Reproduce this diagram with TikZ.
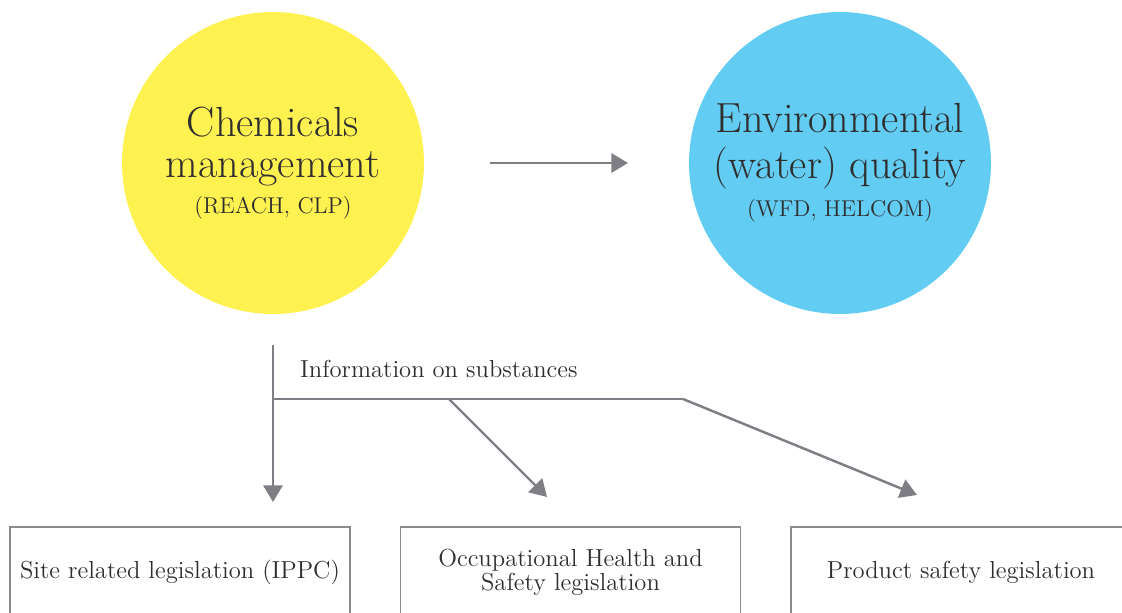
\documentclass[tikz,border=0pt]{standalone}
\usepackage{tikz}
\usetikzlibrary{shapes,arrows.meta}
\definecolor{chemyellow}{HTML}{FFF150}
\definecolor{waterblue}{HTML}{62CCF3}
\definecolor{linegray}{HTML}{7E7E84}
\definecolor{textgray}{HTML}{2E2E2E}
\newcommand{\bigfont}{\fontsize{24}{21}\selectfont}
\newcommand{\subfont}{\fontsize{13}{23}\selectfont}
\newcommand{\lawfont}{\fontsize{14}{13.8}\selectfont}
\newcommand{\bubble}[4] {\node at (#1) (#2) [circle, fill=#3, minimum size=6.04cm, align=center, text=textgray] {#4};}
\newcommand{\lawbox}[3] {\node at (#1) (#2) [rectangle, draw=linegray!90, line width=0.7pt, minimum width=6.8cm, minimum height=1.8cm, align=center, text=textgray, font=\lawfont] {#3};}
\newcommand{\flow}[2] {\draw [linegray, line width=1.4pt, -{Triangle[length=9.5pt,width=11pt]}] (#1) -- (#2);}
\newcommand{\feed}[2] {\draw [linegray, line width=1.4pt] (#1) -- (#2);}

\begin{document}
\begin{tikzpicture}[x=0.02cm, y=-0.02cm]
\useasboundingbox (0,0) rectangle (1122,612);

\bubble {273,163}{chem}{chemyellow}{\bigfont Chemicals\\[7pt] \bigfont management\\[5pt] \subfont (REACH, CLP)};
\bubble {840,163}{water}{waterblue}{\bigfont Environmental\\[7pt] \bigfont (water) quality\\[5pt] \subfont (WFD, HELCOM)};

\lawbox {180,572}{site}{Site related legislation (IPPC)};
\lawbox {570.5,572}{ohs}{Occupational Health and\\ Safety legislation};
\lawbox {961,572}{product}{Product safety legislation};

\coordinate (top) at (273,345);
\coordinate (split) at (273,399);
\coordinate (fork) at (449,399);
\coordinate (bend) at (683,399);
\coordinate (sitein) at (273,502);
\coordinate (ohsin) at (547,497);
\coordinate (prodin) at (917,495);
\coordinate (chemout) at (490,163);
\coordinate (waterin) at (628,163);

\flow{chemout}{waterin};
\flow{top}{sitein};
\feed{split}{bend};
\flow{fork}{ohsin};
\flow{bend}{prodin};

\node at (294,369) (info) [anchor=west, text=textgray, font=\lawfont] {Information on substances};

\end{tikzpicture}
\end{document}
